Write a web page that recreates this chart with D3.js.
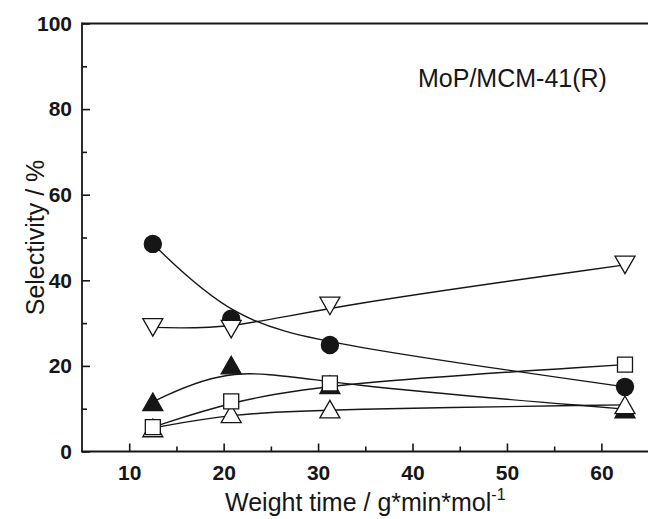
<!DOCTYPE html>
<html>
<head>
<meta charset="utf-8">
<script src="https://cdn.jsdelivr.net/npm/d3@7"></script>
<style>
  html, body { margin: 0; padding: 0; background: #fff; }
  svg { display: block; font-family: Arial, "Liberation Sans", sans-serif; }
</style>
</head>
<body>
<svg id="chart" width="648" height="519"></svg>
<script>
// Weight time values (g*min/mol) shared by all series
const weightTime = [12.5, 20.8, 31.25, 62.5];

// Selectivity (%) for each product series
const filledCircle   = [48.5, 31.0, 24.9, 15.1];
const openDownTri    = [29.0, 28.6, 34.0, 43.6];
const filledUpTri    = [11.6, 20.2, 15.6, 9.9];
const openSquare     = [5.7, 11.7, 15.9, 20.3];
const openUpTri      = [5.5, 8.8, 9.9, 10.9];

const xMajorTicks = [10, 20, 30, 40, 50, 60];
const xMinorTicks = [15, 25, 35, 45, 55];
const yMajorTicks = [0, 20, 40, 60, 80, 100];
const yMinorTicks = [10, 30, 50, 70, 90];

const svg = d3.select("#chart");
const W = 648, H = 519;
const plotLeft = 82, plotTop = 23.5, plotBottom = 451.5;

const x = d3.scaleLinear().domain([5, 65]).range([plotLeft, 648.6]);
const y = d3.scaleLinear().domain([0, 100]).range([plotBottom, plotTop]);

const ink = "#161616";

// Axes (ticks point into the plot)
const gx = svg.append("g").attr("transform", `translate(0,${plotBottom})`);
gx.call(d3.axisBottom(x).tickValues(xMajorTicks).tickSizeInner(-8).tickSizeOuter(0).tickPadding(14));
const gxm = svg.append("g").attr("transform", `translate(0,${plotBottom})`);
gxm.call(d3.axisBottom(x).tickValues(xMinorTicks).tickSizeInner(-5).tickSizeOuter(0).tickFormat(""));

const gy = svg.append("g").attr("transform", `translate(${plotLeft},0)`);
gy.call(d3.axisLeft(y).tickValues(yMajorTicks).tickSizeInner(-8).tickSizeOuter(0).tickPadding(10));
const gym = svg.append("g").attr("transform", `translate(${plotLeft},0)`);
gym.call(d3.axisLeft(y).tickValues(yMinorTicks).tickSizeInner(-5).tickSizeOuter(0).tickFormat(""));

[gx, gxm, gy, gym].forEach(g => {
  g.select(".domain").remove();
  g.selectAll(".tick line").attr("stroke", ink).attr("stroke-width", 1.6);
  g.selectAll(".tick text")
    .attr("fill", ink)
    .attr("font-size", 21)
    .attr("font-weight", "bold")
    .attr("font-family", "Arial, 'Liberation Sans', sans-serif");
});

// Frame lines: left, bottom and top
svg.append("line").attr("x1", plotLeft).attr("x2", plotLeft).attr("y1", plotTop - 0.9).attr("y2", plotBottom + 0.9)
  .attr("stroke", ink).attr("stroke-width", 1.8);
svg.append("line").attr("x1", plotLeft).attr("x2", W).attr("y1", plotBottom).attr("y2", plotBottom)
  .attr("stroke", ink).attr("stroke-width", 1.8);
svg.append("line").attr("x1", plotLeft).attr("x2", W).attr("y1", plotTop).attr("y2", plotTop)
  .attr("stroke", ink).attr("stroke-width", 1.8);

// Axis titles
svg.append("text")
  .attr("transform", `translate(44,${(plotTop + plotBottom) / 2}) rotate(-90)`)
  .attr("text-anchor", "middle")
  .attr("font-size", 25)
  .attr("fill", ink)
  .text("Selectivity / %");

const xt = svg.append("text")
  .attr("x", (plotLeft + 648.6) / 2)
  .attr("y", 511)
  .attr("text-anchor", "middle")
  .attr("font-size", 25)
  .attr("fill", ink);
xt.append("tspan").text("Weight time / g*min*mol");
xt.append("tspan").attr("font-size", 16).attr("dy", -11).text("-1");

// Sample label
svg.append("text")
  .attr("x", 418).attr("y", 87)
  .attr("font-size", 25)
  .attr("fill", ink)
  .text("MoP/MCM-41(R)");

// Series definitions
const series = [
  { values: filledUpTri,  shape: "up",     fill: ink },
  { values: openUpTri,    shape: "up",     fill: "#fff" },
  { values: openSquare,   shape: "square", fill: "#fff" },
  { values: filledCircle, shape: "circle", fill: ink },
  { values: openDownTri,  shape: "down",   fill: "#fff" }
];

// Smoothed connecting curves
const line = d3.line()
  .x((d, i) => x(weightTime[i]))
  .y(d => y(d))
  .curve(d3.curveBasis);

svg.append("g").selectAll("path")
  .data(series)
  .join("path")
  .attr("d", s => line(s.values))
  .attr("fill", "none")
  .attr("stroke", ink)
  .attr("stroke-width", 1.4);

// Marker outlines, centred on the data point
function markerPath(shape) {
  const tw = 10, th = 8.8, sq = 7.5;
  if (shape === "up") return `M${-tw},${th}L${tw},${th}L0,${-th}Z`;
  if (shape === "down") return `M${-tw},${-th}L${tw},${-th}L0,${th}Z`;
  if (shape === "square") return `M${-sq},${-sq}H${sq}V${sq}H${-sq}Z`;
  return null;
}

series.forEach(s => {
  const g = svg.append("g");
  s.values.forEach((v, i) => {
    const cx = x(weightTime[i]), cy = y(v);
    if (s.shape === "circle") {
      g.append("circle").attr("cx", cx).attr("cy", cy).attr("r", 8.6)
        .attr("fill", s.fill).attr("stroke", ink).attr("stroke-width", 1.2);
    } else {
      g.append("path").attr("d", markerPath(s.shape))
        .attr("transform", `translate(${cx},${cy})`)
        .attr("fill", s.fill).attr("stroke", ink).attr("stroke-width", 1.3)
        .attr("stroke-linejoin", "miter");
    }
  });
});
</script>
</body>
</html>
